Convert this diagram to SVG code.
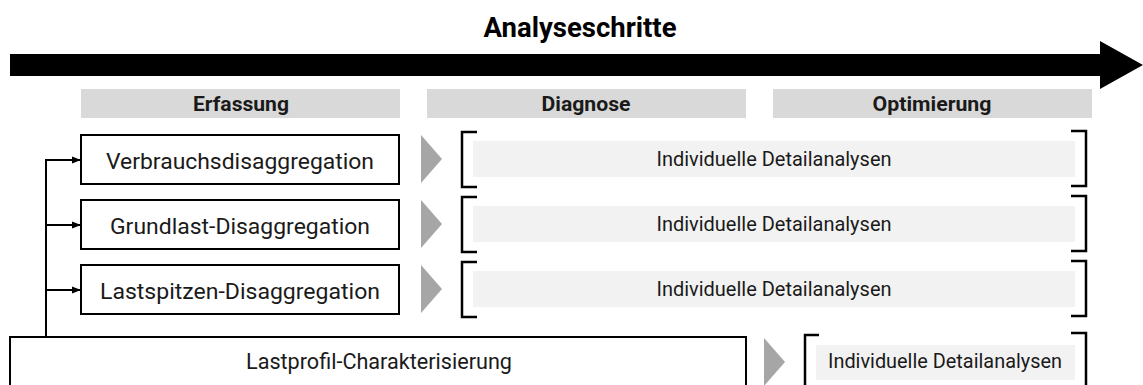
<svg xmlns="http://www.w3.org/2000/svg" width="1143" height="385" viewBox="0 0 1143 385">
<defs>
<marker id="ah" markerWidth="9" markerHeight="9" refX="9" refY="4.5" orient="auto" markerUnits="userSpaceOnUse">
<path d="M0,1 L9,4.5 L0,8 Z" fill="#000"/>
</marker>
<style>
.hdr{fill:#d9d9d9}
.hdt{font-family:Roboto,"Liberation Sans",sans-serif;font-weight:bold;font-size:20px;fill:#1a1a1a;text-anchor:middle}
.box{fill:#fff;stroke:#000;stroke-width:2}
.bt{font-family:Roboto,"Liberation Sans",sans-serif;font-size:22px;fill:#1a1a1a;text-anchor:middle}
.tri{fill:#a6a6a6}
.brk{fill:none;stroke:#000;stroke-width:2.5}
.fill{fill:#f2f2f2}
.it{font-family:Roboto,"Liberation Sans",sans-serif;font-size:19.5px;fill:#1a1a1a;text-anchor:middle}
.con{fill:none;stroke:#000;stroke-width:2}
</style>
</defs>
<rect width="1143" height="385" fill="#fff"/>
<g id="title">
<text x="580" y="36.5" font-family="Roboto, 'Liberation Sans', sans-serif" font-weight="bold" font-size="27" fill="#000" text-anchor="middle" textLength="193" lengthAdjust="spacingAndGlyphs">Analyseschritte</text>
<path d="M10,54 H1100 V41 L1143,65 L1100,89 V76 H10 Z" fill="#000"/>
</g>
<g id="phase-erfassung"><rect class="hdr" x="81" y="89" width="319" height="29"/><text class="hdt" x="241" y="111" textLength="96" lengthAdjust="spacingAndGlyphs">Erfassung</text></g>
<g id="phase-diagnose"><rect class="hdr" x="427" y="89" width="319" height="29"/><text class="hdt" x="586" y="111" textLength="89" lengthAdjust="spacingAndGlyphs">Diagnose</text></g>
<g id="phase-optimierung"><rect class="hdr" x="773" y="89" width="319" height="29"/><text class="hdt" x="932" y="111" textLength="119" lengthAdjust="spacingAndGlyphs">Optimierung</text></g>

<g id="node-verbrauch"><rect class="box" x="81" y="135" width="318" height="49"/><text class="bt" x="240" y="169" textLength="268" lengthAdjust="spacingAndGlyphs">Verbrauchsdisaggregation</text></g>
<g id="node-grundlast"><rect class="box" x="81" y="200" width="318" height="49"/><text class="bt" x="240" y="234" textLength="260" lengthAdjust="spacingAndGlyphs">Grundlast-Disaggregation</text></g>
<g id="node-lastspitzen"><rect class="box" x="81" y="265" width="318" height="49"/><text class="bt" x="240" y="299" textLength="280" lengthAdjust="spacingAndGlyphs">Lastspitzen-Disaggregation</text></g>
<g id="node-lastprofil"><rect class="box" x="10" y="337" width="736" height="60"/><text class="bt" x="379" y="369" textLength="266" lengthAdjust="spacingAndGlyphs">Lastprofil-Charakterisierung</text></g>

<g id="detail-1">
<path class="tri" d="M421,135 L442,159 L421,183 Z"/>
<path class="brk" d="M477,132 H462 V187 H477"/>
<rect class="fill" x="473" y="141" width="602" height="36"/>
<path class="brk" d="M1071,131 H1086 V186 H1071"/>
<text class="it" x="774" y="166" textLength="235" lengthAdjust="spacingAndGlyphs">Individuelle Detailanalysen</text>
</g>
<g id="detail-2">
<path class="tri" d="M421,200 L442,224 L421,248 Z"/>
<path class="brk" d="M477,197 H462 V252 H477"/>
<rect class="fill" x="473" y="206" width="602" height="36"/>
<path class="brk" d="M1071,196 H1086 V251 H1071"/>
<text class="it" x="774" y="231" textLength="235" lengthAdjust="spacingAndGlyphs">Individuelle Detailanalysen</text>
</g>
<g id="detail-3">
<path class="tri" d="M421,265 L442,289 L421,313 Z"/>
<path class="brk" d="M477,262 H462 V317 H477"/>
<rect class="fill" x="473" y="271" width="602" height="36"/>
<path class="brk" d="M1071,261 H1086 V316 H1071"/>
<text class="it" x="774" y="296" textLength="235" lengthAdjust="spacingAndGlyphs">Individuelle Detailanalysen</text>
</g>
<g id="detail-4">
<path class="tri" d="M764,338 L785,362 L764,386 Z"/>
<path class="brk" d="M819,335 H805 V400"/>
<rect class="fill" x="816" y="345" width="259" height="35"/>
<path class="brk" d="M1071,333 H1086 V400"/>
<text class="it" x="945" y="368" textLength="234" lengthAdjust="spacingAndGlyphs">Individuelle Detailanalysen</text>
</g>

<g id="connectors">
<path class="con" d="M46,337 V160"/>
<path class="con" d="M45,160 H81" marker-end="url(#ah)"/>
<path class="con" d="M46,225 H81" marker-end="url(#ah)"/>
<path class="con" d="M46,290 H81" marker-end="url(#ah)"/>
</g>
</svg>
